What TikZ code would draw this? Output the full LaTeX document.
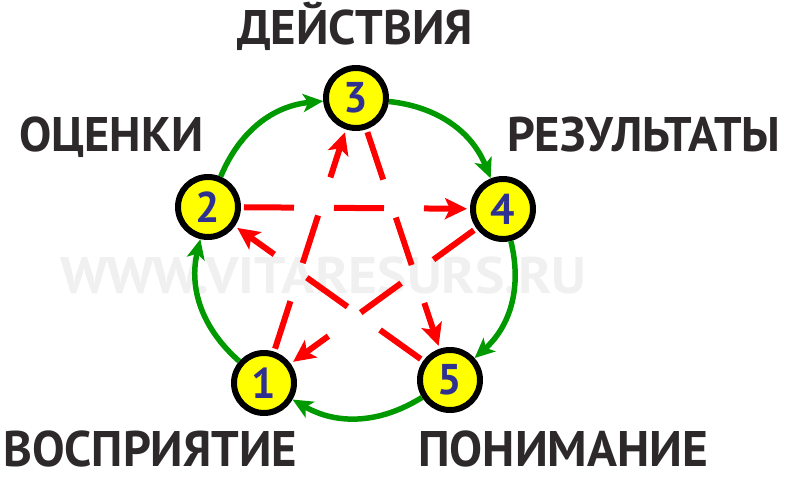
\documentclass[tikz,border=0pt]{standalone}
\usepackage{fontspec}
\setmainfont{PT Sans}
\usetikzlibrary{arrows.meta}
\definecolor{nyellow}{HTML}{FFFF00}
\definecolor{nblue}{HTML}{2E3192}
\definecolor{agreen}{HTML}{009900}
\definecolor{ared}{HTML}{FF0000}
\definecolor{ltext}{HTML}{2D292B}
\definecolor{wmark}{HTML}{F0F0F0}
\newcommand{\fitlab}[3]{\resizebox{#1}{#2}{\vphantom{Е}\smash{\bfseries #3}}}
\tikzset{
  numnode/.style={circle, draw=black, fill=nyellow, line width=6pt, minimum size=60pt, inner sep=0pt,
    font=\fontsize{43}{43}\bfseries, text=nblue},
  labnode/.style={inner sep=0pt, anchor=base west, text=ltext},
  garrow/.style={draw=agreen, line width=5.5pt, -{Stealth[length=20pt, width=18pt, inset=5pt]}},
  rarrow/.style={draw=ared, line width=6pt, dash pattern=on 50pt off 40pt, shorten <=3pt, shorten >=3pt,
    -{Stealth[length=22pt, width=21pt, inset=5pt]}}
}
\begin{document}
\begin{tikzpicture}[x=1pt, y=-1pt]
\useasboundingbox (0,0) rectangle (785,477);
% watermark
\node[labnode, text=wmark] (wm) at (60,293) {\fitlab{526pt}{36pt}{WWW.VITARESURS.RU}};
% nodes
\node[numnode] (n3) at (356,98) {3};
\node[numnode] (n4) at (503,209) {4};
\node[numnode] (n5) at (450,380) {5};
\node[numnode] (n1) at (264,383) {1};
\node[numnode] (n2) at (208,207) {2};
% green cycle
\draw[garrow] (n2) to[bend left=31] (n3);
\draw[garrow] (n3) to[bend left=31] (n4);
\draw[garrow] (n4) to[bend left=31] (n5);
\draw[garrow] (n5) to[bend left=31] (n1);
\draw[garrow] (n1) to[bend left=31] (n2);
% red star
\draw[rarrow] (n1) -- (n3);
\draw[rarrow] (n3) -- (n5);
\draw[rarrow] (n5) -- (n2);
\draw[rarrow] (n2) -- (n4);
\draw[rarrow] (n4) -- (n1);
% labels
\node[labnode] (l3) at (237,44) {\fitlab{236pt}{34pt}{ДЕЙСТВИЯ}};
\node[labnode] (l2) at (19,151) {\fitlab{184pt}{34pt}{ОЦЕНКИ}};
\node[labnode] (l4) at (507,151) {\fitlab{273pt}{34pt}{РЕЗУЛЬТАТЫ}};
\node[labnode] (l1) at (3,466) {\fitlab{294pt}{35pt}{ВОСПРИЯТИЕ}};
\node[labnode] (l5) at (418,466) {\fitlab{290pt}{35pt}{ПОНИМАНИЕ}};
\end{tikzpicture}
\end{document}
